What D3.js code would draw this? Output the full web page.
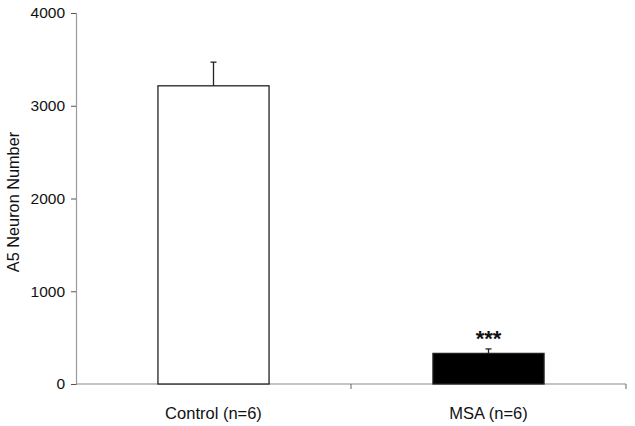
<!DOCTYPE html>
<html>
<head>
<meta charset="utf-8">
<script src="https://cdn.jsdelivr.net/npm/d3@7"></script>
<style>
  body { margin: 0; background: #fff; }
  text { font-family: "Liberation Sans", Arial, sans-serif; fill: #111; }
</style>
</head>
<body>
<svg id="canvas" width="635" height="426"></svg>
<script>
/** Chart data */
const groups = ['Control (n=6)', 'MSA (n=6)'];
const means = [3215, 330];
const errors = [255, 48];
const fills = ['#ffffff', '#000000'];
const marks = ['', '***'];
const yTicks = [0, 1000, 2000, 3000, 4000];

let canvas = d3.select('#canvas');

const plotLeft = 76, plotRight = 626, plotTop = 13, plotBottom = 384;

let x = d3.scaleBand()
    .domain(groups)
    .range([plotLeft, plotRight])
    .paddingInner(0.596)
    .paddingOuter(0.298);

let y = d3.scaleLinear()
    .domain([0, 4000])
    .range([plotBottom, plotTop]);

/** Y axis */
let yAxis = canvas.append('g')
    .attr('transform', `translate(${plotLeft},0)`)
    .call(d3.axisLeft(y).tickValues(yTicks).tickSize(5).tickPadding(6).tickFormat(d3.format('d')));
yAxis.select('.domain').attr('stroke', '#9a9a9a').attr('stroke-width', 1.2);
yAxis.selectAll('.tick line').attr('stroke', '#555');
yAxis.selectAll('.tick text')
    .style('font-size', '15.5px')
    .style('font-family', '"Liberation Sans", Arial, sans-serif')
    .attr('fill', '#111');

/** X axis: ticks on band boundaries */
let xAxis = canvas.append('g');
xAxis.append('line')
    .attr('x1', plotLeft).attr('x2', plotRight)
    .attr('y1', plotBottom).attr('y2', plotBottom)
    .attr('stroke', '#8a8a8a').attr('stroke-width', 1.2);
let bounds = groups.map((g) => x(g) - x.step() * x.paddingInner() / 2 + x.step());
xAxis.selectAll('line.tk')
    .data(bounds)
    .enter()
    .append('line')
    .attr('class', 'tk')
    .attr('x1', (d) => d).attr('x2', (d) => d)
    .attr('y1', plotBottom).attr('y2', plotBottom + 5)
    .attr('stroke', '#666');

xAxis.selectAll('text')
    .data(groups)
    .enter()
    .append('text')
    .attr('x', (g) => x(g) + x.bandwidth() / 2)
    .attr('y', 419)
    .attr('text-anchor', 'middle')
    .style('font-size', '16.5px')
    .text((g) => g);

/** Bars */
let bars = canvas.selectAll('g.bar')
    .data(groups)
    .enter()
    .append('g')
    .attr('class', 'bar');

bars.append('rect')
    .attr('x', (g) => x(g))
    .attr('y', (g, i) => y(means[i]))
    .attr('width', x.bandwidth())
    .attr('height', (g, i) => y(0) - y(means[i]))
    .attr('fill', (g, i) => fills[i])
    .attr('stroke', '#222')
    .attr('stroke-width', 1.3);

/** Error bars (upper only) */
bars.append('line')
    .attr('x1', (g) => x(g) + x.bandwidth() / 2)
    .attr('x2', (g) => x(g) + x.bandwidth() / 2)
    .attr('y1', (g, i) => y(means[i]))
    .attr('y2', (g, i) => y(means[i] + errors[i]))
    .attr('stroke', '#222')
    .attr('stroke-width', 1.3);
bars.append('line')
    .attr('x1', (g) => x(g) + x.bandwidth() / 2 - 3)
    .attr('x2', (g) => x(g) + x.bandwidth() / 2 + 3)
    .attr('y1', (g, i) => y(means[i] + errors[i]))
    .attr('y2', (g, i) => y(means[i] + errors[i]))
    .attr('stroke', '#222')
    .attr('stroke-width', 1.3);

/** Significance stars */
bars.append('text')
    .attr('x', (g) => x(g) + x.bandwidth() / 2)
    .attr('y', (g, i) => y(means[i] + errors[i]) - 3)
    .attr('text-anchor', 'middle')
    .style('font-size', '22px')
    .style('font-weight', 'bold')
    .text((g, i) => marks[i]);

/** Y axis title */
canvas.append('text')
    .attr('transform', 'translate(19,202) rotate(-90)')
    .attr('text-anchor', 'middle')
    .style('font-size', '16.3px')
    .text('A5 Neuron Number');
</script>
</body>
</html>
